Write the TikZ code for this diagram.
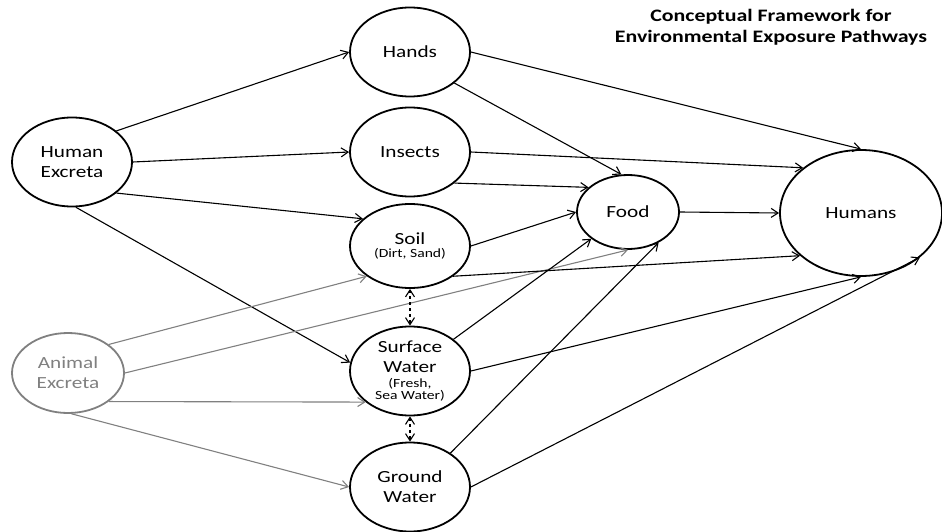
\documentclass[tikz,border=0pt]{standalone}
\usepackage{fontspec}
\setmainfont{Carlito}[FakeStretch=1.25]
\usetikzlibrary{shapes.geometric, arrows.meta}
\definecolor{animalgray}{RGB}{128,128,128}
\newcommand{\smallfont}{\fontsize{12.5}{13}\selectfont}

\begin{document}
\begin{tikzpicture}[x=1pt, y=-1pt, node distance=100pt,
  font=\fontsize{17}{20}\selectfont,
  >={Straight Barb[length=7pt,width=9pt]},
  place/.style={ellipse, draw, line width=1.8pt, minimum width=120pt, minimum height=89pt, inner sep=0pt, align=center},
  animal/.style={draw=animalgray, text=animalgray},
  flow/.style={->, line width=1.1pt},
  animalflow/.style={->, line width=1.1pt, draw=animalgray},
  exchange/.style={<->, dashed, line width=1.1pt}]
\useasboundingbox (0,0) rectangle (942,532);

\node[font=\bfseries\fontsize{17.5}{21.5}\selectfont, align=center] (title) at (771,27) {Conceptual Framework for\\Environmental Exposure Pathways};

\node[place] (hexcreta) at (72,162) {Human\\Excreta};
\node[place, animal, minimum width=112pt, minimum height=80pt] (aexcreta) at (68,373) {Animal\\Excreta};

\node[place] (hands) at (410,52) {Hands};
\node[place, below of=hands] (insects) {Insects};
\node[place, below of=insects, yshift=6pt, minimum height=84pt] (soil) {Soil\\[-7pt]{\smallfont (Dirt, Sand)}};
\node[place, below of=soil, yshift=-25pt] (surface) {Surface\\Water\\[-5pt]{\smallfont (Fresh,}\\[-8pt]{\smallfont Sea Water)}};
\node[place, below of=surface, yshift=-16pt] (ground) {Ground\\Water};

\node[place, minimum width=102pt, minimum height=74pt] (food) at (628,212) {Food};
\node[place, minimum width=162pt, minimum height=126pt] (humans) at (861,213) {Humans};

% human excreta
\draw[flow] (hexcreta.35) -- (hands.west);
\draw[flow] (hexcreta.east) -- (insects.west);
\draw[flow] (hexcreta.-35) -- (soil.150);
\draw[flow] (hexcreta.-85) -- (surface.172);

% animal excreta
\draw[animalflow] (aexcreta.35) -- (soil.215);
\draw[animalflow] (aexcreta.east) -- (food.south);
\draw[animalflow] (aexcreta.-35) -- (surface.215);
\draw[animalflow] (aexcreta.-85) -- (ground.west);

% into food
\draw[flow] (hands.-35) -- (food.100);
\draw[flow] (insects.-35) -- (food.148);
\draw[flow] (soil.east) -- (food.west);
\draw[flow] (surface) -- (food);
\draw[flow] (ground.40) -- (food.-45);

% into humans
\draw[flow] (hands.east) -- (humans.north);
\draw[flow] (insects.east) -- (humans.142);
\draw[flow] (soil.-35) -- (humans.215);
\draw[flow] (food.east) -- (humans.west);
\draw[flow] (surface.east) -- (humans.south);
\draw[flow] (ground.east) -- (humans.-37);

% water exchange
\draw[exchange] (soil.south) -- (surface.north);
\draw[exchange] (surface.south) -- (ground.north);
\end{tikzpicture}
\end{document}
